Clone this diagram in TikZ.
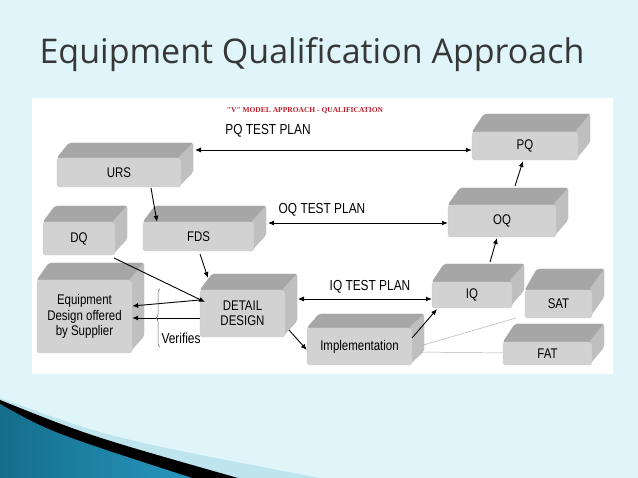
\documentclass[tikz,border=0pt]{standalone}
\usepackage{fontspec}
\setmainfont{Liberation Sans}
\newfontfamily\titlefont{Open Sans}
\newfontfamily\narrow[FakeStretch=0.82]{Liberation Sans}
\newfontfamily\serifb{Liberation Serif}
\usetikzlibrary{arrows.meta,decorations.pathreplacing}
\tikzset{
  front/.style={fill=gray!35,draw=gray!45,rounded corners=3pt,inner sep=0pt,font=\narrow\fontsize{14}{15.5}\selectfont,align=center},
  topf/.style={fill=gray!70,draw=gray!70,rounded corners=2pt},
  sidef/.style={fill=gray!50,draw=gray!55,rounded corners=2pt},
  arr/.style={-{Latex[length=6pt,width=5pt]},line width=0.9pt},
  darr/.style={{Latex[length=6pt,width=5pt]}-{Latex[length=6pt,width=5pt]},line width=0.9pt},
  lbl/.style={font=\narrow\fontsize{14.5}{16}\selectfont},
  thin/.style={draw=gray!60,line width=0.5pt}
}
% name, x1, y1, x2, y2, ytop, text
\newcommand\cubebox[7]{%
  \pgfmathsetmacro\cbd{#3-#6}%
  \pgfmathsetmacro\cbw{#4-#2}%
  \pgfmathsetmacro\cbh{#5-#3}%
  \pgfmathsetmacro\cbx{(#2+#4)/2}%
  \pgfmathsetmacro\cby{(#3+#5)/2}%
  \fill[topf] (#2,#3) -- (#2+12,#6) -- (#4+12,#6) -- (#4,#3) -- cycle;
  \fill[sidef] (#4-3,#3) -- (#4+12,#6) -- (#4+12,#5-\cbd) -- (#4-3,#5) -- cycle;
  \node[front,minimum width=\cbw pt,minimum height=\cbh pt] (#1) at (\cbx,\cby) {#7};
}
\begin{document}
\begin{tikzpicture}[x=1pt,y=-1pt]
\fill[fill={rgb,255:red,223;green,245;blue,250}] (0,0) rectangle (638,478);
\useasboundingbox (0,0) rectangle (638,478);
% swoosh
\fill[fill={rgb,255:red,190;green,228;blue,238}] (0,398) .. controls (110,438) .. (320,478) -- (0,478) -- cycle;
\fill[black] (0,400) .. controls (90,436) .. (238,478) -- (0,478) -- cycle;
\shade[left color={rgb,255:red,20;green,110;blue,140},right color={rgb,255:red,40;green,150;blue,190}] (0,404) .. controls (50,432) .. (192,478) -- (0,478) -- cycle;
\node[font=\titlefont\fontsize{34}{38}\selectfont,text={rgb,255:red,55;green,55;blue,55},anchor=west] (title) at (36,55) {Equipment Qualification Approach};
% diagram panel
\fill[white] (32,98) rectangle (613,374);
\node[font=\serifb\bfseries\fontsize{7.5}{8}\selectfont,text={rgb,255:red,190;green,30;blue,40}] (hdr) at (305,111) {"V" MODEL APPROACH - QUALIFICATION};
\cubebox{urs}{57}{158}{181}{187}{143}{URS}
\cubebox{pq}{472}{132}{578}{160}{114}{PQ}
\cubebox{dq}{43}{222}{115}{255}{206}{DQ}
\cubebox{fds}{143}{222}{254}{251}{206}{FDS}
\cubebox{oq}{448}{205}{556}{237}{188}{OQ}
\cubebox{eq}{37}{280}{132}{353}{263}{Equipment\\Design offered\\by Supplier}
\cubebox{dd}{200}{290}{285}{337}{274}{DETAIL\\DESIGN}
\cubebox{iq}{432}{282}{512}{308}{264}{IQ}
\cubebox{sat}{525}{290}{592}{318}{269}{SAT}
\cubebox{imp}{307}{328}{412}{365}{314}{Implementation}
\cubebox{fat}{503}{342}{592}{365}{324}{FAT}
% test plans
\draw[darr] (195,150) -- (pq.west |- 0,150);
\node[lbl] (pql) at (268,131) {PQ TEST PLAN};
\draw[darr] (268,223) -- (oq.west |- 0,223);
\node[lbl] (oql) at (322,210) {OQ TEST PLAN};
\draw[darr] (298,299) -- (iq.west |- 0,299);
\node[lbl] (iql) at (370,287) {IQ TEST PLAN};
% flow
\draw[arr] (151,188) -- (fds.north -| 157,0);
\draw[arr] (200,254) -- (208,278);
\draw[arr] (114,258) -- (205,302);
\draw[arr] (200,300) -- (eq.east |- 0,306);
\draw[arr] (dd.west |- 0,318) -- (eq.east |- 0,318);
\draw[arr] (289,330) -- (imp.west |- 0,350);
\draw[arr] (412,338) -- (437,309);
\draw[arr] (490,262) -- (497,238);
\draw[arr] (515,186) -- (523,161);
\draw[thin] (420,346) -- (516,318);
\draw[thin] (420,352) -- (fat.west |- 0,353);
\draw[gray!80!black,line width=0.5pt,decorate,decoration={brace,amplitude=4pt}] (160,347) -- (160,289);
\node[lbl,anchor=west] (ver) at (158,338) {Verifies};
\end{tikzpicture}
\end{document}
